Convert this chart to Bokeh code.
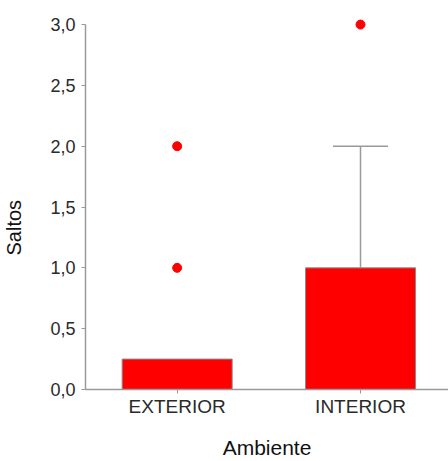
from bokeh.plotting import figure
from bokeh.models import Range1d, FixedTicker, Title, ColumnDataSource
from bokeh.embed import file_html
from bokeh.resources import INLINE

# Data
categories = ["EXTERIOR", "INTERIOR"]
bar_values = [0.25, 1.0]
whisker_upper = [None, 2.0]
outlier_cat = ["EXTERIOR", "EXTERIOR", "INTERIOR"]
outlier_values = [1.0, 2.0, 3.0]
y_ticks = [0.0, 0.5, 1.0, 1.5, 2.0, 2.5, 3.0]
y_tick_labels = ["0,0", "0,5", "1,0", "1,5", "2,0", "2,5", "3,0"]

FONT = "Liberation Sans"
RED = "#ff0000"
GREY = "#9a9a9a"

# category positions on a numeric axis
xpos = {c: i + 0.5 for i, c in enumerate(categories)}

p = figure(width=448, height=461, output_backend="svg", toolbar_location=None,
           x_range=Range1d(0.0, 1.98), y_range=Range1d(0.0, 3.05),
           min_border_left=85, min_border_right=0, min_border_top=18,
           min_border_bottom=72)
p.outline_line_color = None
p.grid.visible = False
p.background_fill_color = "white"
p.border_fill_color = "white"

# bars
bars = ColumnDataSource(dict(x=[xpos[c] for c in categories], top=bar_values))
p.vbar(x="x", top="top", bottom=0, width=0.6, source=bars,
       fill_color=RED, line_color="#8a8a8a", line_width=1)

# upper whiskers
for c, v, hi in zip(categories, bar_values, whisker_upper):
    if hi is None:
        continue
    p.segment(x0=[xpos[c]], y0=[v], x1=[xpos[c]], y1=[hi],
              line_color=GREY, line_width=1.5)
    p.segment(x0=[xpos[c] - 0.15], y0=[hi], x1=[xpos[c] + 0.15], y1=[hi],
              line_color=GREY, line_width=1.5)

# outliers
p.scatter(x=[xpos[c] for c in outlier_cat], y=outlier_values, size=9,
          fill_color=RED, line_color=RED)

# y axis
ya = p.yaxis[0]
ya.ticker = FixedTicker(ticks=y_ticks)
ya.major_label_overrides = {t: l for t, l in zip(y_ticks, y_tick_labels)}
ya.bounds = (0.0, 3.0)
ya.axis_line_color = GREY
ya.axis_line_width = 1.5
ya.major_tick_line_color = GREY
ya.major_tick_in = 0
ya.major_tick_out = 4
ya.minor_tick_line_color = None
ya.major_label_standoff = 6
ya.major_label_text_font = FONT
ya.major_label_text_font_size = "18px"
ya.major_label_text_color = "#2a2a2a"
# blank axis label used as spacing between tick labels and the title
ya.axis_label = "\u00a0"
ya.axis_label_text_font_size = "18px"
ya.axis_label_standoff = 0

# x axis
xa = p.xaxis[0]
xa.ticker = FixedTicker(ticks=[xpos[c] for c in categories])
xa.major_label_overrides = {xpos[c]: c for c in categories}
xa.axis_line_color = GREY
xa.axis_line_width = 1.5
xa.major_tick_line_color = GREY
xa.major_tick_in = 0
xa.major_tick_out = 4
xa.minor_tick_line_color = None
xa.major_label_standoff = 2
xa.major_label_text_font = FONT
xa.major_label_text_font_size = "19px"
xa.major_label_text_color = "#2a2a2a"
xa.axis_label = "Ambiente"
xa.axis_label_text_font = FONT
xa.axis_label_text_font_size = "21px"
xa.axis_label_text_font_style = "normal"
xa.axis_label_text_color = "#111111"
xa.axis_label_standoff = 16

# y axis title, placed in the left panel
p.add_layout(Title(text="Saltos", align="left", offset=134,
                   text_font=FONT, text_font_size="20px",
                   text_font_style="normal", text_color="#111111",
                   standoff=0), "left")

open("out.html", "w").write(file_html(p, INLINE))
